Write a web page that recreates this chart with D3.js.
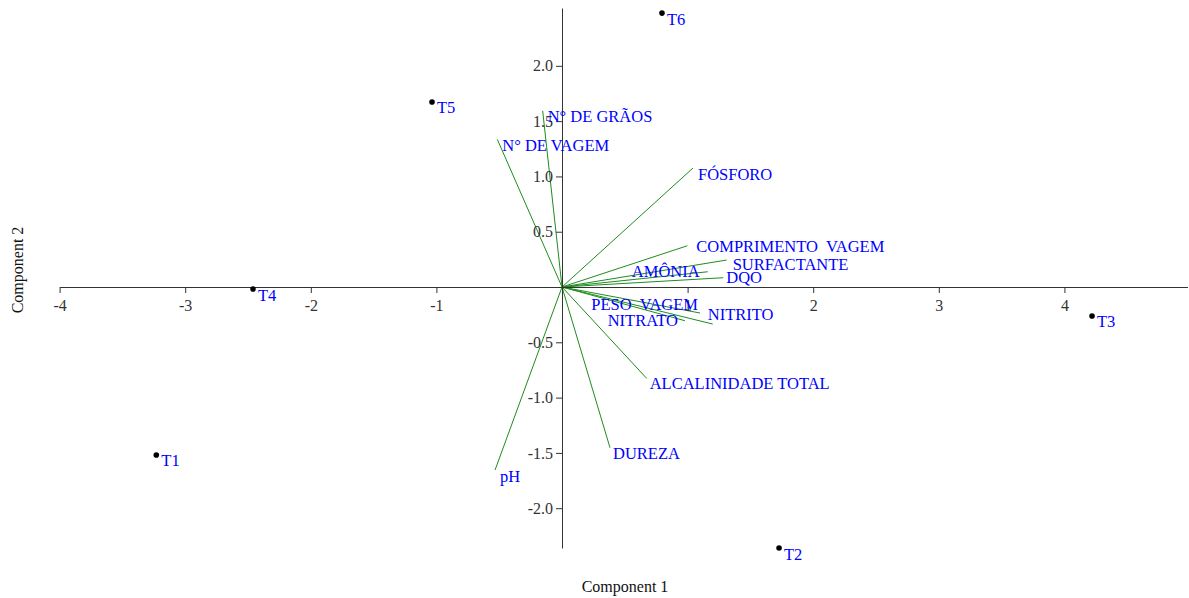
<!DOCTYPE html>
<html>
<head>
<meta charset="utf-8">
<script src="https://cdnjs.cloudflare.com/ajax/libs/d3/7.8.5/d3.min.js"></script>
<style>
  body { margin: 0; background: #fff; }
  svg text { font-family: "Liberation Serif", "Times New Roman", serif; }
  .axis text { font-size: 16px; fill: #333; }
  .axis path, .axis line { stroke: #333; }
</style>
</head>
<body>
<div class="biplot-container"></div>
<script>
const width = 1189;
const height = 598;

// scores (observations)
const obsNames = ['T1', 'T2', 'T3', 'T4', 'T5', 'T6'];
const obsPC1 = [-3.23, 1.728, 4.22, -2.46, -1.035, 0.796];
const obsPC2 = [-1.519, -2.36, -0.262, -0.018, 1.673, 2.477];

// loadings (variables)
const varNames = ['N° DE GRÃOS', 'N° DE VAGEM', 'FÓSFORO', 'COMPRIMENTO  VAGEM', 'SURFACTANTE',
  'AMÔNIA', 'DQO', 'PESO  VAGEM', 'NITRITO', 'NITRATO', 'ALCALINIDADE TOTAL', 'DUREZA', 'pH'];
const varPC1 = [-0.154, -0.515, 1.043, 0.998, 1.311, 1.160, 1.284, 1.099, 1.200, 0.979, 0.674, 0.382, -0.533];
const varPC2 = [1.594, 1.335, 1.076, 0.373, 0.244, 0.138, 0.084, -0.235, -0.335, -0.305, -0.826, -1.453, -1.655];

const xTicks = [-4, -3, -2, -1, 1, 2, 3, 4];
const yTicks = [-2, -1.5, -1, -0.5, 0.5, 1, 1.5, 2];

// label nudges in pixels (text start / anchor, vertical centre)
const labelNudge = {
  'COMPRIMENTO  VAGEM': { dx: 9, dy: 1, anchor: 'start' },
  'SURFACTANTE': { dx: 6, dy: 4, anchor: 'start' },
  'AMÔNIA': { dx: -8, dy: 0, anchor: 'end' },
  'DQO': { dx: 3, dy: 0, anchor: 'start' },
  'PESO  VAGEM': { dx: -2, dy: -9, anchor: 'end' },
  'NITRITO': { dx: -5, dy: -10, anchor: 'start' },
  'NITRATO': { dx: -7, dy: 0, anchor: 'end' },
  'ALCALINIDADE TOTAL': { dx: 3, dy: 5, anchor: 'start' },
  'DUREZA': { dx: 3, dy: 6, anchor: 'start' }
};
const defaultNudge = { dx: 5, dy: 6, anchor: 'start' };

// plain hyphen for negatives, like the original
const fmtX = (d) => d3.format('d')(d).replace('\u2212', '-');
const fmtY = (d) => d3.format('.1f')(d).replace('\u2212', '-');

const svg = d3.select('.biplot-container').append('svg')
  .attr('width', width)
  .attr('height', height);

const scaleX = d3.scaleLinear().domain([-4, 4.98]).range([59.6, 1187.5]);
const scaleY = d3.scaleLinear().domain([-2.36, 2.523]).range([548, 8]);

const loadings = varNames.map((name, i) => ({ name: name, x: varPC1[i], y: varPC2[i] }));
const scores = obsNames.map((name, i) => ({ name: name, x: obsPC1[i], y: obsPC2[i] }));

// loading vectors
svg.append('g').selectAll('line')
  .data(loadings)
  .enter().append('line')
  .attr('x1', scaleX(0)).attr('y1', scaleY(0))
  .attr('x2', (d) => scaleX(d.x))
  .attr('y2', (d) => scaleY(d.y))
  .attr('stroke', '#1e8c1e')
  .attr('stroke-width', 1);

// axes through origin
svg.append('g').attr('class', 'axis')
  .attr('transform', 'translate(0,' + scaleY(0) + ')')
  .call(d3.axisBottom(scaleX).tickValues(xTicks).tickFormat(fmtX).tickSize(6).tickSizeOuter(0))
  .attr('font-family', null)
  .attr('font-size', null)
  .selectAll('text').attr('dy', '0.95em');

svg.append('g').attr('class', 'axis')
  .attr('transform', 'translate(' + scaleX(0) + ',0)')
  .call(d3.axisLeft(scaleY).tickValues(yTicks).tickFormat(fmtY).tickSize(6).tickSizeOuter(0))
  .attr('font-family', null)
  .attr('font-size', null);

svg.selectAll('.axis .domain').attr('stroke', '#333');

// variable labels
svg.append('g').selectAll('text')
  .data(loadings)
  .enter().append('text')
  .attr('x', (d) => scaleX(d.x) + (labelNudge[d.name] || defaultNudge).dx)
  .attr('y', (d) => scaleY(d.y) + (labelNudge[d.name] || defaultNudge).dy)
  .attr('dominant-baseline', 'central')
  .attr('text-anchor', (d) => (labelNudge[d.name] || defaultNudge).anchor)
  .style('white-space', 'pre')
  .attr('font-size', 16.5)
  .attr('fill', 'blue')
  .text((d) => d.name);

// observations
svg.append('g').selectAll('circle')
  .data(scores)
  .enter().append('circle')
  .attr('cx', (d) => scaleX(d.x))
  .attr('cy', (d) => scaleY(d.y))
  .attr('r', 2.8)
  .attr('fill', '#000');

svg.append('g').selectAll('text')
  .data(scores)
  .enter().append('text')
  .attr('x', (d) => scaleX(d.x) + 5)
  .attr('y', (d) => scaleY(d.y) + 6)
  .attr('dominant-baseline', 'central')
  .attr('font-size', 16.5)
  .attr('fill', 'blue')
  .text((d) => d.name);

// axis titles
svg.append('text')
  .attr('x', 625).attr('y', 586)
  .attr('text-anchor', 'middle')
  .attr('dominant-baseline', 'central')
  .attr('font-size', 16)
  .attr('fill', '#111')
  .text('Component 1');

svg.append('text')
  .attr('transform', 'translate(17,270) rotate(-90)')
  .attr('text-anchor', 'middle')
  .attr('dominant-baseline', 'central')
  .attr('font-size', 16)
  .attr('fill', '#111')
  .text('Component 2');
</script>
</body>
</html>
